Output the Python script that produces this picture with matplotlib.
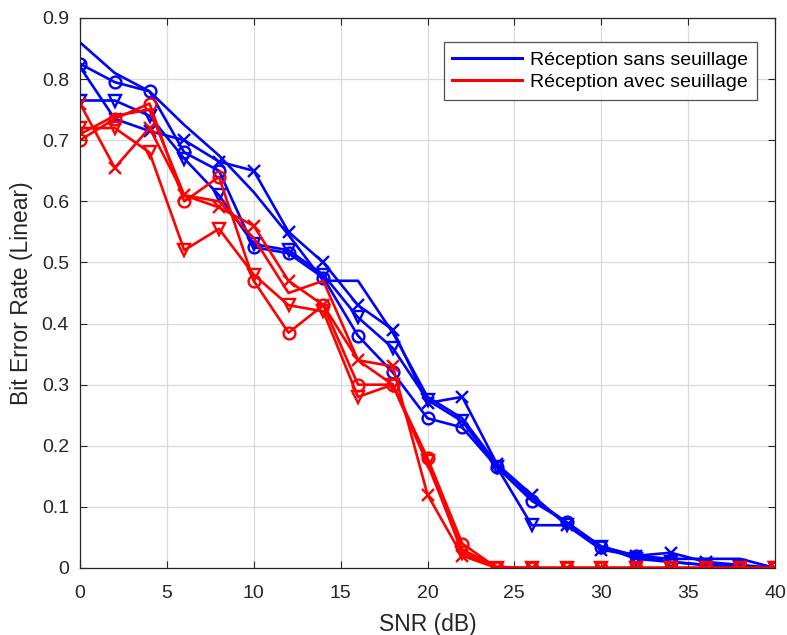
import numpy as np
import matplotlib
matplotlib.use("Agg")
import matplotlib.pyplot as plt

plt.rcParams['font.family'] = ['Liberation Sans', 'DejaVu Sans']

snr = list(range(0, 41, 2))

blue_plain = [0.86, 0.81, 0.78, 0.725, 0.675, 0.615, 0.545, 0.47, 0.47, 0.385, 0.28, 0.245, 0.17, 0.115, 0.075, 0.035, 0.02, 0.015, 0.015, 0.015, 0.0]
blue_o = [0.825, 0.795, 0.78, 0.68, 0.65, 0.525, 0.515, 0.475, 0.38, 0.32, 0.245, 0.23, 0.165, 0.11, 0.075, 0.035, 0.02, 0.01, 0.005, 0.002, 0.0]
blue_x = [0.82, 0.735, 0.715, 0.70, 0.665, 0.65, 0.55, 0.50, 0.43, 0.39, 0.27, 0.28, 0.17, 0.12, 0.07, 0.03, 0.02, 0.025, 0.01, 0.005, 0.0]
blue_v = [0.765, 0.765, 0.74, 0.67, 0.61, 0.53, 0.52, 0.48, 0.41, 0.36, 0.275, 0.24, 0.165, 0.07, 0.07, 0.035, 0.015, 0.01, 0.005, 0.002, 0.0]

zeros = [0.0] * 8
red_plain = [0.71, 0.74, 0.75, 0.61, 0.60, 0.54, 0.45, 0.47, 0.34, 0.30, 0.17, 0.03, 0.002] + zeros
red_o = [0.70, 0.735, 0.76, 0.60, 0.64, 0.47, 0.385, 0.43, 0.30, 0.30, 0.18, 0.04, 0.0] + zeros
red_x = [0.76, 0.655, 0.72, 0.61, 0.59, 0.56, 0.47, 0.43, 0.34, 0.33, 0.12, 0.02, 0.0] + zeros
red_v = [0.72, 0.72, 0.68, 0.52, 0.555, 0.48, 0.43, 0.42, 0.28, 0.30, 0.175, 0.025, 0.0] + zeros

labels = ['Réception sans seuillage', 'Réception avec seuillage']

fig = plt.figure(figsize=(7.87, 6.35), dpi=100)
ax = fig.add_axes([80/787, 67/635, 695/787, 550/635])

lw = 1.9
ms = 8.5
mew = 1.7
blue = '#0000ff'
red = '#ff0000'
h1, = ax.plot(snr, blue_plain, color=blue, lw=lw)
ax.plot(snr, blue_o, color=blue, lw=lw, marker='o', ms=ms, mfc='none', mew=mew)
ax.plot(snr, blue_x, color=blue, lw=lw, marker='x', ms=ms, mew=mew)
ax.plot(snr, blue_v, color=blue, lw=lw, marker='v', ms=ms, mfc='none', mew=mew)
h2, = ax.plot(snr, red_plain, color=red, lw=lw)
ax.plot(snr, red_o, color=red, lw=lw, marker='o', ms=ms, mfc='none', mew=mew)
ax.plot(snr, red_x, color=red, lw=lw, marker='x', ms=ms, mew=mew)
ax.plot(snr, red_v, color=red, lw=lw, marker='v', ms=ms, mfc='none', mew=mew)

ax.set_xlim(0, 40)
ax.set_ylim(0, 0.9)
ax.set_xticks(range(0, 41, 5))
ax.set_yticks(np.arange(0, 0.91, 0.1))
ax.set_yticklabels(['0', '0.1', '0.2', '0.3', '0.4', '0.5', '0.6', '0.7', '0.8', '0.9'])
ax.grid(True, color='#d9d9d9', lw=0.9)
ax.set_axisbelow(True)
ax.tick_params(direction='in', labelsize=14, colors='#262626', length=5, top=True, right=True)
ax.tick_params(axis='x', pad=12)
ax.tick_params(axis='y', pad=8)
for s in ax.spines.values():
    s.set_color('#262626')
    s.set_linewidth(0.9)
ax.set_xlabel('SNR (dB)', fontsize=16.5, color='#262626', labelpad=8)
ax.set_ylabel('Bit Error Rate (Linear)', fontsize=16.5, color='#262626', labelpad=6)

leg = ax.legend([h1, h2], labels, loc='upper right', fontsize=14, frameon=True,
                fancybox=False, edgecolor='#262626', handlelength=3.6, handletextpad=0.4,
                borderpad=0.45, labelspacing=0.25, borderaxespad=0,
                bbox_to_anchor=(0.974, 0.956))
leg.get_frame().set_linewidth(0.9)
for l in leg.get_lines():
    l.set_linewidth(2.2)

fig.savefig('out.png', dpi=100)
